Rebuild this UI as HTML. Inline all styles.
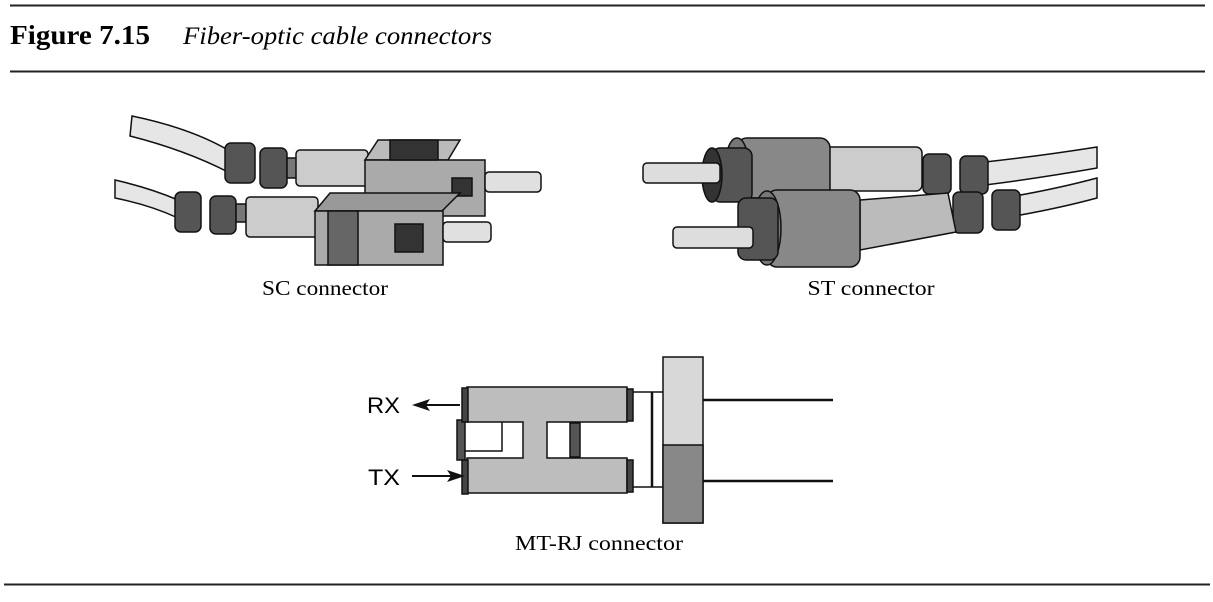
<!DOCTYPE html>
<html><head><meta charset="utf-8"><style>
html,body{margin:0;padding:0;background:#fff;}
svg{display:block}
</style></head><body>
<svg width="1213" height="602" viewBox="0 0 1213 602" xmlns="http://www.w3.org/2000/svg">
<line x1="10" y1="5.5" x2="1205" y2="5.5" stroke="#222" stroke-width="2"/>
<line x1="10" y1="71.5" x2="1205" y2="71.5" stroke="#222" stroke-width="2"/>
<line x1="4" y1="584.5" x2="1210" y2="584.5" stroke="#222" stroke-width="2"/>
<text x="10" y="44" font-family="Liberation Serif, serif" font-weight="bold" font-size="27" textLength="140" lengthAdjust="spacingAndGlyphs">Figure 7.15</text>
<text x="183" y="44" font-family="Liberation Serif, serif" font-style="italic" font-size="25" textLength="309" lengthAdjust="spacingAndGlyphs">Fiber-optic cable connectors</text>

<g stroke="#111" stroke-width="1.5">
<!-- SC upper -->
<path d="M132 116 Q190 128 228 150 L228 172 Q185 150 130 136 Z" fill="#e6e6e6"/>
<rect x="225" y="143" width="30" height="40" rx="6" fill="#555"/>
<rect x="260" y="148" width="27" height="40" rx="6" fill="#555"/>
<rect x="287" y="158" width="10" height="20" fill="#777"/>
<rect x="296" y="150" width="72" height="36" rx="4" fill="#ccc"/>
<polygon points="365,160 378,140 460,140 448,160" fill="#bbb"/>
<rect x="365" y="160" width="120" height="56" fill="#aaa"/>
<rect x="390" y="140" width="48" height="20" fill="#333"/>
<rect x="452" y="178" width="20" height="18" fill="#333"/>
<rect x="485" y="172" width="56" height="20" rx="4" fill="#e0e0e0"/>
<!-- SC lower -->
<path d="M115 180 Q150 188 178 200 L178 218 Q150 205 115 198 Z" fill="#e6e6e6"/>
<rect x="175" y="192" width="26" height="40" rx="6" fill="#555"/>
<rect x="210" y="196" width="26" height="38" rx="6" fill="#555"/>
<rect x="236" y="204" width="10" height="18" fill="#777"/>
<rect x="246" y="197" width="72" height="40" rx="4" fill="#ccc"/>
<polygon points="315,211 330,193 460,193 442,211" fill="#999"/>
<rect x="315" y="211" width="128" height="54" fill="#aaa"/>
<rect x="328" y="211" width="30" height="54" fill="#666"/>
<rect x="395" y="224" width="28" height="28" fill="#333"/>
<rect x="443" y="222" width="48" height="20" rx="4" fill="#e0e0e0"/>
</g>
<text x="325" y="295" text-anchor="middle" font-family="Liberation Serif, serif" font-size="21" textLength="126" lengthAdjust="spacingAndGlyphs">SC connector</text>

<g stroke="#111" stroke-width="1.5">
<!-- ST upper -->
<path d="M985 162 Q1040 156 1097 147 L1097 168 Q1040 178 985 185 Z" fill="#e6e6e6"/>
<rect x="923" y="154" width="28" height="40" rx="6" fill="#555"/>
<rect x="960" y="156" width="28" height="38" rx="6" fill="#555"/>
<rect x="800" y="147" width="122" height="44" rx="6" fill="#ccc"/>
<rect x="737" y="138" width="93" height="60" rx="10" fill="#888"/>
<ellipse cx="737" cy="168" rx="12" ry="30" fill="#777"/>
<rect x="712" y="148" width="40" height="54" rx="8" fill="#555"/>
<ellipse cx="712" cy="175" rx="10" ry="27" fill="#333"/>
<rect x="643" y="163" width="77" height="20" rx="4" fill="#ddd"/>
<!-- ST lower -->
<path d="M1015 196 Q1060 188 1097 178 L1097 198 Q1060 208 1015 216 Z" fill="#e6e6e6"/>
<rect x="953" y="192" width="30" height="41" rx="6" fill="#555"/>
<rect x="992" y="190" width="28" height="40" rx="6" fill="#555"/>
<polygon points="860,200 948,193 956,232 860,250" fill="#bbb"/>
<rect x="767" y="190" width="93" height="77" rx="10" fill="#888"/>
<ellipse cx="767" cy="228" rx="14" ry="37" fill="#777"/>
<rect x="738" y="198" width="40" height="62" rx="8" fill="#555"/>
<rect x="673" y="227" width="80" height="21" rx="4" fill="#ddd"/>
</g>
<text x="871" y="295" text-anchor="middle" font-family="Liberation Serif, serif" font-size="21" textLength="127" lengthAdjust="spacingAndGlyphs">ST connector</text>

<!-- MT-RJ -->
<g stroke="#111" stroke-width="1.5">
<rect x="461" y="421" width="41" height="30" fill="#fff"/>
<rect x="457" y="420" width="8" height="40" fill="#555"/>
<rect x="570" y="423" width="10" height="34" fill="#555"/>
<path d="M467 387 H627 V422 H547 V458 H627 V493 H467 V458 H523 V422 H467 Z" fill="#bdbdbd"/>
<rect x="462" y="388" width="6" height="34" fill="#444"/>
<rect x="462" y="460" width="6" height="34" fill="#444"/>
<rect x="627" y="389" width="6" height="32" fill="#444"/>
<rect x="627" y="460" width="6" height="32" fill="#444"/>
<line x1="633" y1="392" x2="663" y2="392"/>
<line x1="633" y1="487" x2="663" y2="487"/>
<line x1="652" y1="392" x2="652" y2="487" stroke-width="2.5"/>
<rect x="663" y="357" width="40" height="166" fill="#d8d8d8"/>
<rect x="663" y="445" width="40" height="78" fill="#888"/>
<line x1="703" y1="400" x2="833" y2="400" stroke-width="2.5"/>
<line x1="703" y1="481" x2="833" y2="481" stroke-width="2.5"/>
<line x1="418" y1="405" x2="460" y2="405" stroke-width="2"/>
<line x1="412" y1="476" x2="455" y2="476" stroke-width="2"/>
</g>
<polygon points="412,405 430,399 426,405 430,411" fill="#111"/>
<polygon points="465,476 447,470 451,476 447,482" fill="#111"/>
<text x="367" y="413" font-family="Liberation Sans, sans-serif" font-size="22" textLength="33" lengthAdjust="spacingAndGlyphs">RX</text>
<text x="368" y="485" font-family="Liberation Sans, sans-serif" font-size="22" textLength="32" lengthAdjust="spacingAndGlyphs">TX</text>
<text x="599" y="550" text-anchor="middle" font-family="Liberation Serif, serif" font-size="21" textLength="168" lengthAdjust="spacingAndGlyphs">MT-RJ connector</text>
</svg>
</body></html>
